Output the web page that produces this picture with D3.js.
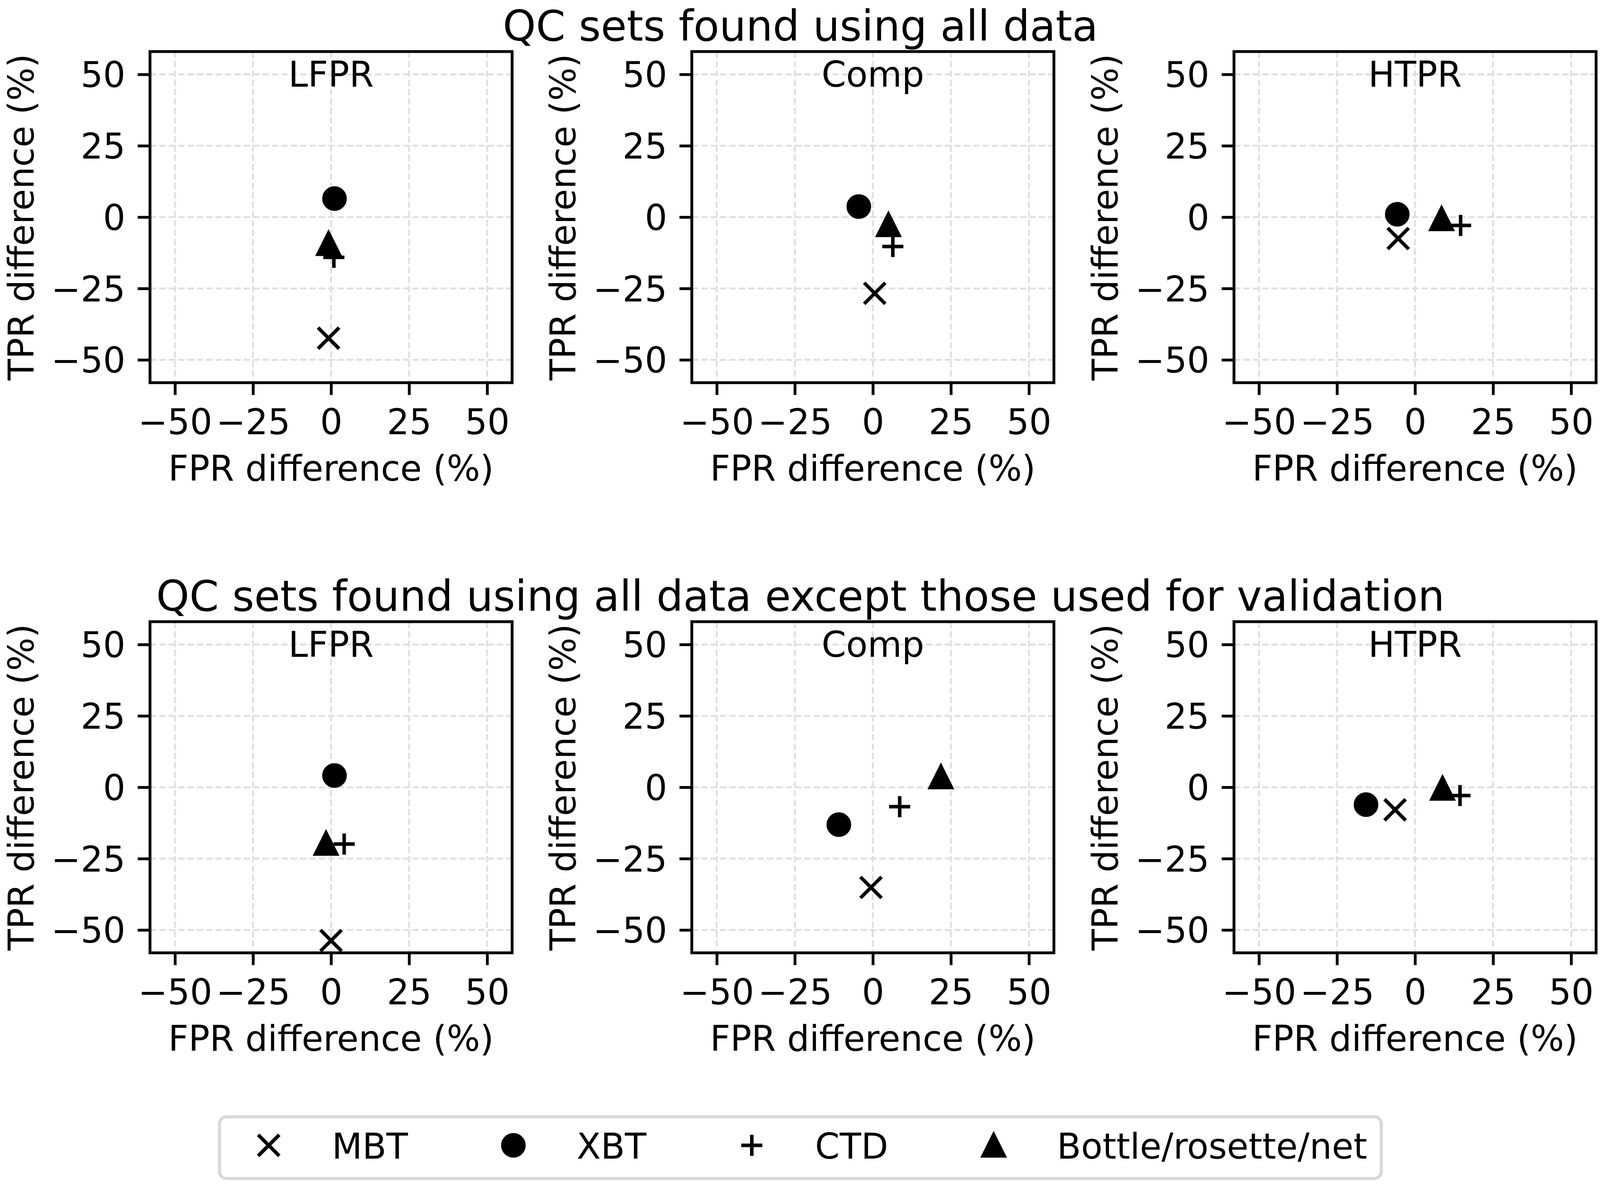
<!DOCTYPE html>
<html>
<head>
<meta charset="utf-8">
<script src="https://cdn.jsdelivr.net/npm/d3@7"></script>
<style>
  body { margin: 0; background: #fff; }
  text { font-family: "DejaVu Sans", sans-serif; fill: #000; }
</style>
</head>
<body>
<div id="chart"></div>
<script>
var width = 4098,
    height = 3032;

// categories
var instruments = ["MBT", "XBT", "CTD", "Bottle/rosette/net"];
var panelNames = ["LFPR", "Comp", "HTPR"];
var rowTitles = ["QC sets found using all data",
                 "QC sets found using all data except those used for validation"];
var tickValues = [-50, -25, 0, 25, 50];

// FPR / TPR difference (%), one inner array per panel (LFPR, Comp, HTPR),
// values in the order of instruments
var fprAll = [[-0.8, 1.1, 0.9, -0.8], [0.6, -4.5, 6.4, 5.0], [-5.4, -5.7, 14.6, 8.5]];
var tprAll = [[-42.4, 6.5, -14.1, -9.3], [-26.7, 3.7, -10.3, -2.7], [-7.5, 1.0, -2.9, -0.6]];
var fprHeldOut = [[0.0, 1.1, 4.2, -1.6], [-0.6, -10.9, 8.6, 21.8], [-6.4, -15.7, 14.4, 8.8]];
var tprHeldOut = [[-53.7, 4.1, -19.9, -19.7], [-35.1, -13.1, -6.8, 3.6], [-7.9, -6.1, -2.9, -0.4]];

var rows = [[fprAll, tprAll], [fprHeldOut, tprHeldOut]];

// layout (px)
var panelLeft = [384, 1771, 3159],
    panelW = 927,
    rowTop = [132, 1592],
    panelH = 848,
    fs = 90,        // tick / label font size
    lw = 7.2,       // spine + tick width
    ms = 27,        // half marker size
    mew = 9;

var svg = d3.select("#chart").append("svg")
    .attr("width", width)
    .attr("height", height)
    .style("background", "#fff");

// marker path builders
function markerPath(kind) {
    var p = d3.path();
    if (kind === 0) {          // x
        p.moveTo(-ms, -ms); p.lineTo(ms, ms);
        p.moveTo(-ms, ms); p.lineTo(ms, -ms);
    } else if (kind === 1) {   // circle
        p.arc(0, 0, ms, 0, 2 * Math.PI);
        p.closePath();
    } else if (kind === 2) {   // +
        p.moveTo(-ms, 0); p.lineTo(ms, 0);
        p.moveTo(0, -ms); p.lineTo(0, ms);
    } else {                   // triangle up
        p.moveTo(0, -ms); p.lineTo(-ms, ms); p.lineTo(ms, ms);
        p.closePath();
    }
    return p.toString();
}
function drawMarker(sel, kind) {
    sel.append("path")
        .attr("d", markerPath(kind))
        .attr("fill", (kind === 1 || kind === 3) ? "#000" : "none")
        .attr("stroke", "#000")
        .attr("stroke-width", mew)
        .attr("stroke-linejoin", "miter")
        .attr("stroke-linecap", "butt");
}

rows.forEach(function (row, r) {
    var top = rowTop[r];

    svg.append("text")
        .attr("x", width / 2)
        .attr("y", top - 28)
        .attr("text-anchor", "middle")
        .style("font-size", "108px")
        .text(rowTitles[r]);

    panelNames.forEach(function (name, c) {
        var left = panelLeft[c];
        var x = d3.scaleLinear().domain([-58, 58]).range([left, left + panelW]);
        var y = d3.scaleLinear().domain([-58, 58]).range([top + panelH, top]);

        var g = svg.append("g");

        // grid
        g.selectAll(".gx").data(tickValues).enter().append("line")
            .attr("x1", function (d) { return x(d); })
            .attr("x2", function (d) { return x(d); })
            .attr("y1", top).attr("y2", top + panelH)
            .attr("stroke", "#e0e0e0").attr("stroke-width", 5)
            .attr("stroke-dasharray", "16.5,7.5");
        g.selectAll(".gy").data(tickValues).enter().append("line")
            .attr("y1", function (d) { return y(d); })
            .attr("y2", function (d) { return y(d); })
            .attr("x1", left).attr("x2", left + panelW)
            .attr("stroke", "#e0e0e0").attr("stroke-width", 5)
            .attr("stroke-dasharray", "16.5,7.5");

        // axes
        var xAxis = g.append("g")
            .attr("transform", "translate(0," + (top + panelH) + ")")
            .call(d3.axisBottom(x).tickValues(tickValues).tickSize(31.5)
                .tickSizeOuter(0).tickPadding(37).tickFormat(d3.format("d")));
        var yAxis = g.append("g")
            .attr("transform", "translate(" + left + ",0)")
            .call(d3.axisLeft(y).tickValues(tickValues).tickSize(31.5)
                .tickSizeOuter(0).tickPadding(31.5).tickFormat(d3.format("d")));
        [xAxis, yAxis].forEach(function (a) {
            a.select(".domain").remove();
            a.selectAll(".tick line").attr("stroke", "#000").attr("stroke-width", lw);
            a.selectAll(".tick text")
                .attr("fill", "#000")
                .style("font-family", "DejaVu Sans")
                .style("font-size", fs + "px");
        });
        yAxis.selectAll(".tick text").attr("dy", "0.36em");

        // points
        var fpr = row[0][c], tpr = row[1][c];
        instruments.forEach(function (inst, k) {
            var m = g.append("g")
                .attr("transform", "translate(" + x(fpr[k]) + "," + y(tpr[k]) + ")");
            drawMarker(m, k);
        });

        // frame
        g.append("rect")
            .attr("x", left).attr("y", top)
            .attr("width", panelW).attr("height", panelH)
            .attr("fill", "none").attr("stroke", "#000").attr("stroke-width", lw);

        // panel title
        g.append("text")
            .attr("x", left + panelW / 2)
            .attr("y", top + 90)
            .attr("text-anchor", "middle")
            .style("font-size", fs + "px")
            .text(name);

        // axis labels
        g.append("text")
            .attr("x", left + panelW / 2)
            .attr("y", top + panelH + 251)
            .attr("text-anchor", "middle")
            .style("font-size", fs + "px")
            .text("FPR difference (%)");
        g.append("text")
            .attr("transform", "translate(" + (left - 298) + "," + (top + panelH / 2) + ") rotate(-90)")
            .attr("text-anchor", "middle")
            .style("font-size", fs + "px")
            .text("TPR difference (%)");
    });
});

// legend
var pad = 36, handleLen = 180, textPad = 72, colSpace = 180,
    legMarkY = 2933, legTextY = 2967, boxTop = 2860, boxBottom = 3018;

var leg = svg.append("g");
var box = leg.append("rect")
    .attr("y", boxTop).attr("height", boxBottom - boxTop)
    .attr("rx", 18).attr("ry", 18)
    .attr("fill", "#fff").attr("stroke", "#d9d9d9").attr("stroke-width", 8);

var labels = instruments.map(function (d) {
    return leg.append("text").style("font-size", fs + "px").attr("y", legTextY).text(d);
});
var widths = labels.map(function (t) { return t.node().getComputedTextLength(); });
var total = 2 * pad + d3.sum(widths) + instruments.length * (handleLen + textPad) +
    (instruments.length - 1) * colSpace;
var cursor = width / 2 - total / 2;
box.attr("x", cursor).attr("width", total);
cursor += pad;
instruments.forEach(function (d, k) {
    var m = leg.append("g")
        .attr("transform", "translate(" + (cursor + handleLen / 2) + "," + legMarkY + ")");
    drawMarker(m, k);
    labels[k].attr("x", cursor + handleLen + textPad);
    cursor += handleLen + textPad + widths[k] + colSpace;
});
</script>
</body>
</html>
